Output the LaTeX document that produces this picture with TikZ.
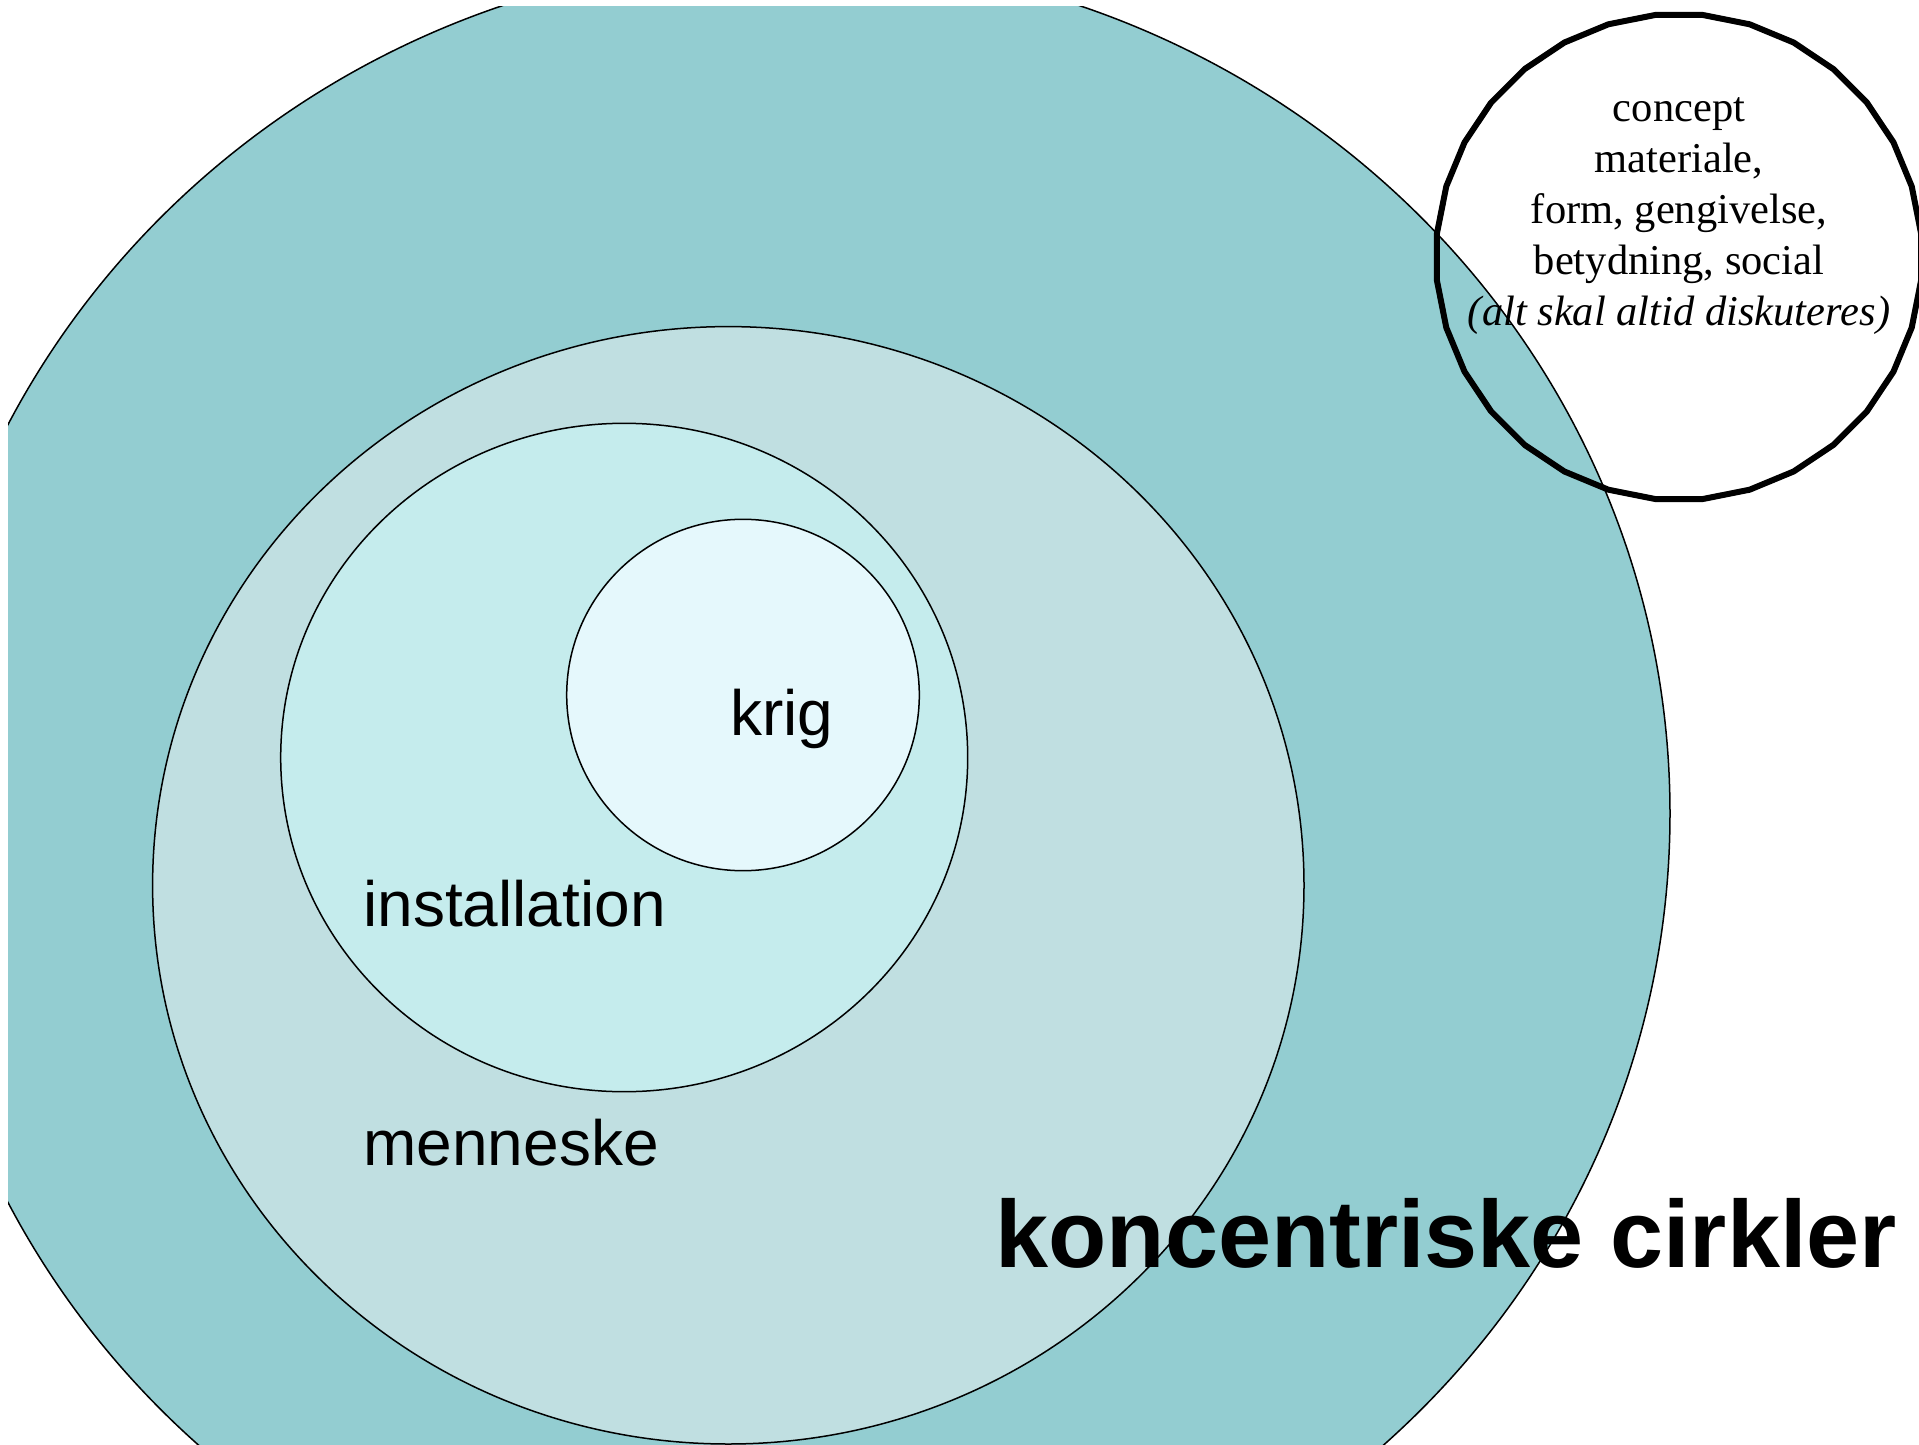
\documentclass[tikz,border=0pt]{standalone}
\usepackage{fontspec}
\setmainfont{Liberation Serif}
\newfontfamily\arialf{Liberation Sans}
\usetikzlibrary{shapes.geometric}
\definecolor{outerc}{RGB}{147,205,209}
\definecolor{mennc}{RGB}{192,223,225}
\definecolor{instc}{RGB}{197,236,237}
\definecolor{krigc}{RGB}{229,248,252}
\begin{document}
\begin{tikzpicture}[x=0.5pt,y=-0.5pt,
  ring/.style={draw=black,line width=0.75pt},
  sanslabel/.style={font=\arialf\fontsize{32}{38}\selectfont, inner sep=0pt, anchor=base west}]
\useasboundingbox (0,0) rectangle (1919,1445);
\begin{scope}
  \clip (8,7) rectangle (1919,1445);
  \draw[ring, fill=outerc] (791,813.5) ellipse [x radius=439.5pt, y radius=427.5pt];
  \draw[ring, fill=mennc] (728.3,885.3) ellipse [x radius=287.85pt, y radius=279.35pt];
  \draw[ring, fill=instc] (624.2,757.5) ellipse [x radius=171.75pt, y radius=167.1pt];
  \draw[ring, fill=krigc] (743,695) ellipse [x radius=88.15pt, y radius=87.85pt];
\end{scope}
\node[sanslabel] (krig) at (730,735) {krig};
\node[sanslabel] (inst) at (363,926.7) {installation};
\node[sanslabel] (menn) at (363,1165) {menneske};
\node[font=\arialf\bfseries\fontsize{47.7}{57}\selectfont, inner sep=0pt, anchor=base west] (title) at (995,1267) {koncentriske cirkler};
\node[regular polygon, regular polygon sides=32, minimum size=243.2pt, inner sep=0pt, draw=black, line width=3pt] (concept) at (1679,257) {};
\node[inner sep=0pt, anchor=base, font=\fontsize{21.25}{25.5}\selectfont] (ctext) at (1679,122)
  {\begin{tabular}[t]{@{}c@{}}concept\\materiale,\\form, gengivelse,\\betydning, social\\\textit{(alt skal altid diskuteres)}\end{tabular}};
\end{tikzpicture}
\end{document}
